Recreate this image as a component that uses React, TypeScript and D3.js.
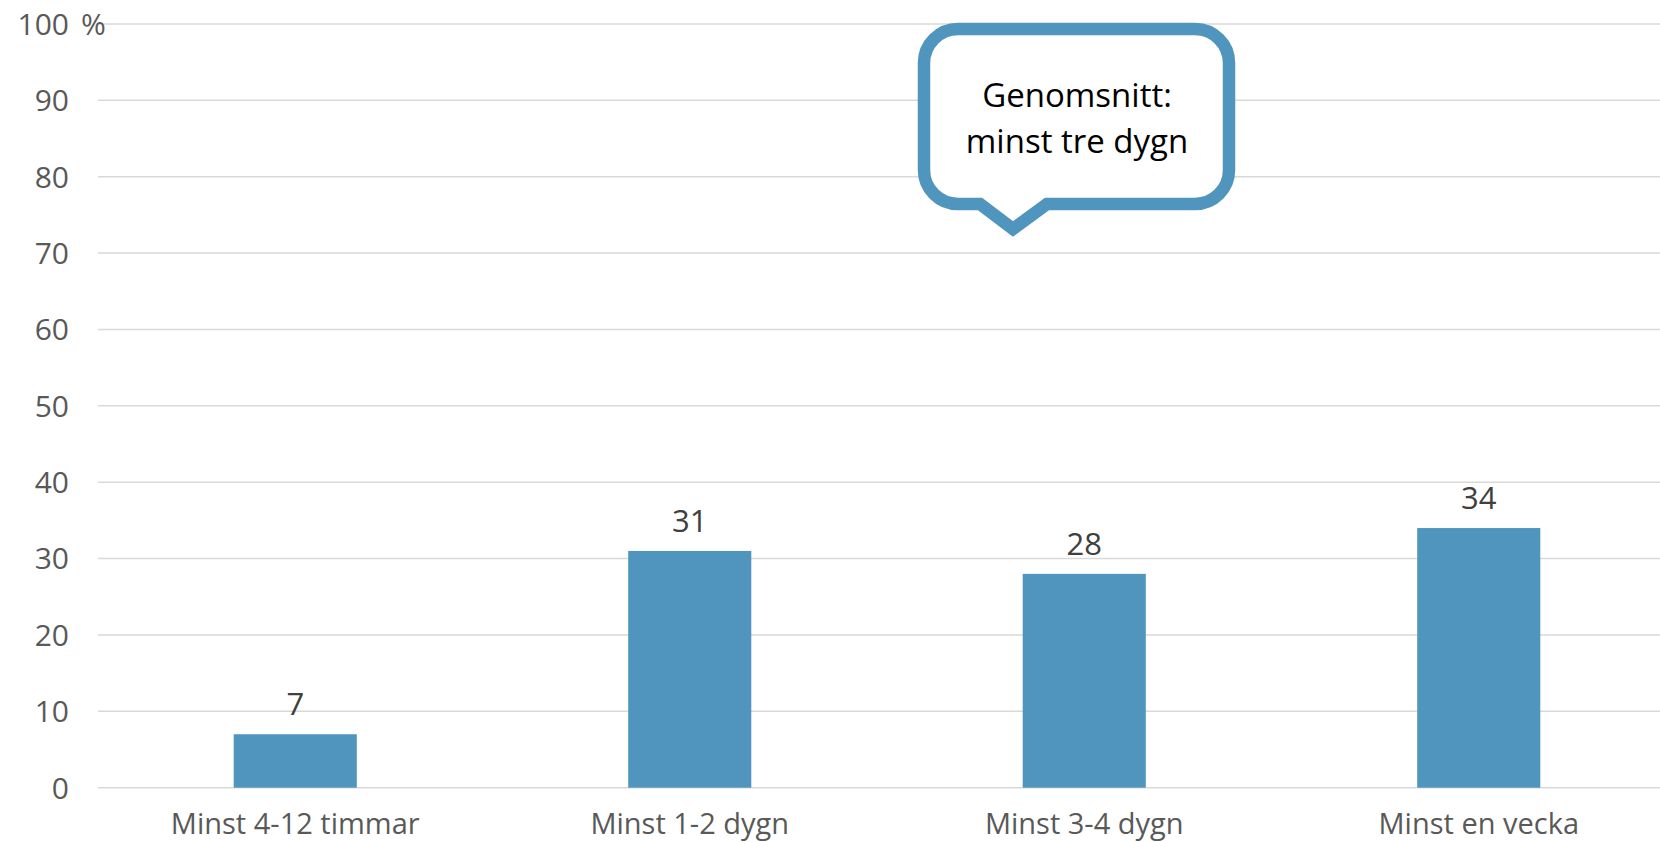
import React from "react";
import * as d3 from "d3";

const categories = ["Minst 4-12 timmar", "Minst 1-2 dygn", "Minst 3-4 dygn", "Minst en vecka"];
const values = [7, 31, 28, 34];
const yTicks = [0, 10, 20, 30, 40, 50, 60, 70, 80, 90, 100];
const calloutLines = ["Genomsnitt:", "minst tre dygn"];

const App = () => {
  const width = 1660;
  const height = 842;
  const font = "'Open Sans', sans-serif";

  const x = d3
    .scaleBand()
    .domain(categories)
    .range([98, 1676])
    .paddingInner(0.688)
    .paddingOuter(0.344);

  const y = d3.scaleLinear().domain([0, 100]).range([787.7, 24]);

  // callout bubble (speech box with pointer)
  const bx0 = 924, bx1 = 1229, by0 = 29, by1 = 204, r = 34;
  const tipX = 1013, tipY = 229, baseL = 980, baseR = 1047;
  const bubble = d3.path();
  bubble.moveTo(bx0 + r, by0);
  bubble.lineTo(bx1 - r, by0);
  bubble.arcTo(bx1, by0, bx1, by0 + r, r);
  bubble.lineTo(bx1, by1 - r);
  bubble.arcTo(bx1, by1, bx1 - r, by1, r);
  bubble.lineTo(baseR, by1);
  bubble.lineTo(tipX, tipY);
  bubble.lineTo(baseL, by1);
  bubble.lineTo(bx0 + r, by1);
  bubble.arcTo(bx0, by1, bx0, by1 - r, r);
  bubble.lineTo(bx0, by0 + r);
  bubble.arcTo(bx0, by0, bx0 + r, by0, r);
  bubble.closePath();

  return (
    <svg
      width={width}
      height={height}
      style={{ position: "absolute", left: 0, top: 0, background: "#fff" }}
      fontFamily={font}
    >
      {/* gridlines */}
      <g stroke="#d9d9d9" strokeWidth={1.5}>
        {yTicks.map((t) => (
          <line key={t} x1={98} x2={width} y1={y(t)} y2={y(t)} />
        ))}
      </g>

      {/* y tick labels */}
      <g fill="#595959" fontSize={30}>
        {yTicks.map((t) => (
          <text key={t} x={69} y={y(t)} dy="0.36em" textAnchor="end">
            {t}
          </text>
        ))}
        <text x={81} y={y(100)} dy="0.36em">
          %
        </text>
      </g>

      {/* bars */}
      <g fill="#4f95bd">
        {values.map((v, i) => (
          <rect
            key={categories[i]}
            x={x(categories[i])}
            width={x.bandwidth()}
            y={y(v)}
            height={y(0) - y(v)}
          />
        ))}
      </g>

      {/* value labels */}
      <g fill="#404040" fontSize={31} textAnchor="middle">
        {values.map((v, i) => (
          <text key={categories[i]} x={x(categories[i]) + x.bandwidth() / 2} y={y(v) - 19}>
            {v}
          </text>
        ))}
      </g>

      {/* category labels */}
      <g fill="#595959" fontSize={29} textAnchor="middle">
        {categories.map((c) => (
          <text key={c} x={x(c) + x.bandwidth() / 2} y={834}>
            {c}
          </text>
        ))}
      </g>

      {/* callout */}
      <path d={bubble.toString()} fill="#fff" stroke="#4f95bd" strokeWidth={12.5} strokeLinejoin="miter" />
      <g fill="#000" fontSize={33} textAnchor="middle">
        {calloutLines.map((l, i) => (
          <text key={l} x={1077} y={107 + i * 46}>
            {l}
          </text>
        ))}
      </g>
    </svg>
  );
};

export default App;
